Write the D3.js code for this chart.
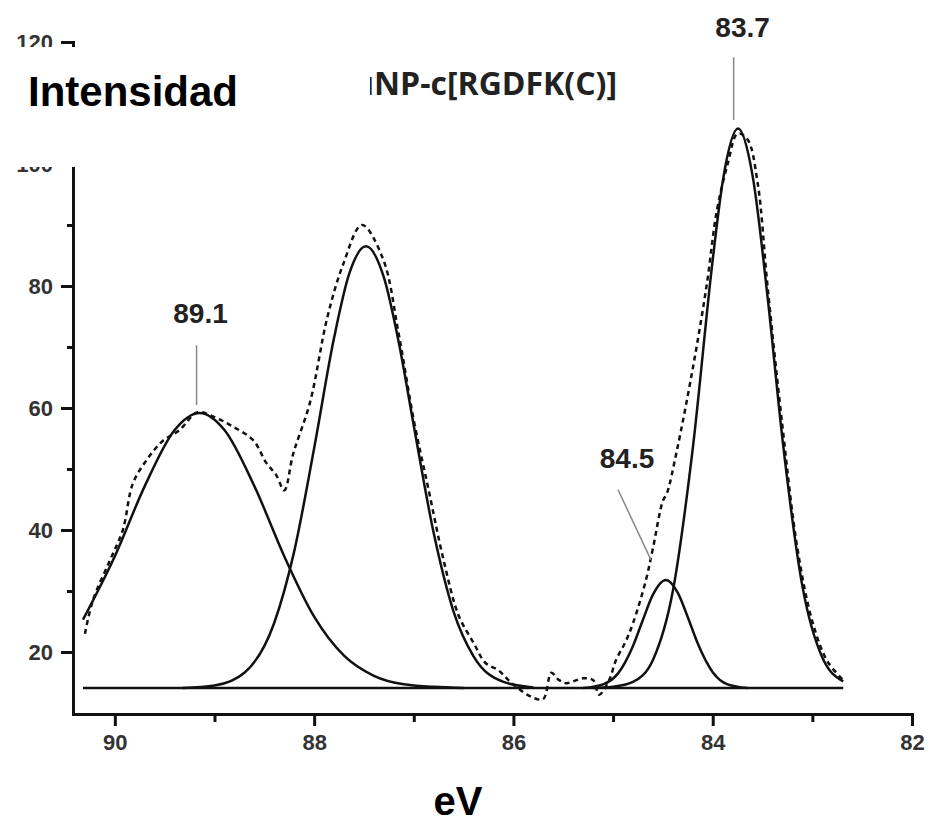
<!DOCTYPE html>
<html>
<head>
<meta charset="utf-8">
<script src="https://cdn.jsdelivr.net/npm/d3@7"></script>
<style>
  body { margin: 0; background: #fff; }
  svg text { font-family: "Liberation Sans", Arial, sans-serif; }
</style>
</head>
<body>
<div id="chart"></div>
<script>
// measured spectrum (dashed) : [eV, intensity]
const measured = [[90.3,23],[90.22,28.5],[90.05,35],[89.92,40],[89.82,47.6],[89.68,51.5],[89.52,54.6],
  [89.35,56.4],[89.17,59.3],[89.0,58.5],[88.82,57],[88.61,54.7],[88.48,51],[88.38,49],[88.3,46.5],
  [88.21,52.5],[88.04,61],[87.87,74.7],[87.71,83.5],[87.52,90],[87.31,84.5],[87.15,72],[87.0,58],
  [86.85,46.5],[86.7,35],[86.55,26],[86.4,21.5],[86.28,18.2],[86.15,17],[86.05,15.4],[85.95,14],
  [85.8,12.5],[85.7,12.3],[85.62,16.6],[85.55,15.5],[85.47,14.9],[85.3,15.7],[85.2,15.4],[85.14,13],
  [85.04,15.4],[84.97,18.7],[84.88,21.5],[84.8,24.7],[84.67,31.8],[84.6,37],[84.5,44.8],[84.46,46],
  [84.36,53],[84.2,66.5],[84.06,80.2],[83.96,92.2],[83.85,100],[83.75,105],[83.65,104],[83.55,97],
  [83.45,80],[83.3,57],[83.15,37],[83.0,25],[82.85,18.5],[82.69,15.4]]

// fitted components (solid)
const peak891 = [[90.32,25.3],[90.0,35.7],[89.7,47.2],[89.4,56.4],[89.15,59.2],[88.9,56.4],[88.6,47.2],
  [88.3,35.7],[88.0,25.8],[87.7,19.4],[87.4,16.1],[87.1,14.7],[86.8,14.3],[86.5,14.1]]
const peak875 = [[89.32,14.1],[89.0,14.5],[88.7,16.6],[88.4,24.8],[88.2,36.5],[88.0,53.4],[87.8,71.5],
  [87.65,81.9],[87.48,86.5],[87.3,81.4],[87.15,70.7],[87.0,57.1],[86.8,39.5],[86.6,26.6],[86.4,19.3],
  [86.1,15.1],[85.8,14.2]]
const peak845 = [[85.3,14.1],[85.1,14.7],[84.95,16.5],[84.8,21.0],[84.7,25.3],[84.6,29.4],[84.47,31.8],
  [84.35,29.7],[84.25,25.7],[84.15,21.4],[84.0,16.7],[83.85,14.7],[83.65,14.1]]
const peak837 = [[85.2,14.1],[85.0,14.3],[84.8,15.1],[84.6,18.7],[84.4,30.0],[84.2,53.4],[84.0,84.3],
  [83.9,97.1],[83.745,105.8],[83.6,98.1],[83.45,78.3],[83.3,54.9],[83.1,30.8],[82.9,19.1],[82.69,15.2]]
const baseline = [[90.32,14.1],[82.69,14.1]]

const xTicks = [90, 88, 86, 84, 82]
const xMinor = [89, 87, 85, 83]
const yTicks = [20, 40, 60, 80, 100, 120]
const yMinor = [30, 50, 70, 90, 110]

// peak labels: text anchor and leader line, in data units
const labels = [
  {text: "83.7", at: [83.70, 120.8], from: [83.79, 117.5], to: [83.79, 107.2]},
  {text: "89.1", at: [89.14, 73.9], from: [89.18, 70.3], to: [89.18, 60.5]},
  {text: "84.5", at: [84.86, 50.2], from: [84.95, 46.6], to: [84.62, 35.1]}
]

const width = 932, height = 822

const svg = d3.select("#chart").append("svg")
  .attr("width", width)
  .attr("height", height)

const x = d3.scaleLinear().domain([90.42, 82]).range([73, 912])
const y = d3.scaleLinear().domain([9.84, 120]).range([714, 42])

const tickFont = g => g.selectAll("text")
  .attr("font-size", 22).attr("font-weight", "bold").attr("fill", "#333")
  .attr("font-family", "Liberation Sans, Arial, sans-serif")

// axes
const gx = svg.append("g").attr("transform", "translate(0,714)")
gx.call(d3.axisBottom(x).tickValues(xTicks).tickSize(12).tickSizeOuter(0).tickPadding(8))
  .call(tickFont)
gx.append("g").call(d3.axisBottom(x).tickValues(xMinor).tickSize(8).tickFormat(""))
  .select(".domain").remove()

const gy = svg.append("g").attr("transform", "translate(73,0)")
gy.call(d3.axisLeft(y).tickValues(yTicks).tickSize(12).tickSizeOuter(0).tickPadding(8))
  .call(tickFont)
gy.append("g").call(d3.axisLeft(y).tickValues(yMinor).tickSize(6).tickFormat(""))
  .select(".domain").remove()

svg.selectAll(".domain, .tick line").attr("stroke", "#111").attr("stroke-width", 3)
svg.selectAll(".domain").attr("stroke-linecap", "square")

const line = d3.line().x(d => x(d[0])).y(d => y(d[1])).curve(d3.curveMonotoneX)

svg.append("path").datum(baseline)
  .attr("d", line).attr("fill", "none").attr("stroke", "#111").attr("stroke-width", 2.5)

svg.selectAll("path.fit")
  .data([peak891, peak875, peak845, peak837])
  .join("path")
  .attr("class", "fit")
  .attr("d", line)
  .attr("fill", "none")
  .attr("stroke", "#111")
  .attr("stroke-width", 2.5)

svg.append("path").datum(measured)
  .attr("d", d3.line().x(d => x(d[0])).y(d => y(d[1])).curve(d3.curveCatmullRom))
  .attr("fill", "none")
  .attr("stroke", "#111")
  .attr("stroke-width", 2.5)
  .attr("stroke-dasharray", "5,4")

// peak labels
svg.selectAll("line.lead")
  .data(labels)
  .join("line")
  .attr("class", "lead")
  .attr("x1", d => x(d.from[0])).attr("y1", d => y(d.from[1]))
  .attr("x2", d => x(d.to[0])).attr("y2", d => y(d.to[1]))
  .attr("stroke", "#888")
  .attr("stroke-width", 1.5)

svg.selectAll("text.peak")
  .data(labels)
  .join("text")
  .attr("class", "peak")
  .attr("x", d => x(d.at[0]))
  .attr("y", d => y(d.at[1]))
  .attr("text-anchor", "middle")
  .attr("font-size", 28)
  .attr("font-weight", "bold")
  .attr("fill", "#222")
  .text(d => d.text)

// title, partly hidden behind the axis label box
svg.append("text")
  .attr("x", 617).attr("y", 95)
  .attr("text-anchor", "end")
  .attr("font-size", 32)
  .attr("font-weight", "bold")
  .attr("fill", "#222")
  .style("font-family", "'Open Sans', sans-serif")
  .text("AuNP-c[RGDFK(C)]")

svg.append("rect")
  .attr("x", 0).attr("y", 47)
  .attr("width", 370).attr("height", 120)
  .attr("fill", "#fff")

svg.append("text")
  .attr("x", 28).attr("y", 106)
  .attr("font-size", 42)
  .attr("font-weight", "bold")
  .attr("fill", "#000")
  .text("Intensidad")

svg.append("text")
  .attr("x", 458).attr("y", 815)
  .attr("text-anchor", "middle")
  .attr("font-size", 40)
  .attr("font-weight", "bold")
  .attr("fill", "#000")
  .text("eV")
</script>
</body>
</html>
